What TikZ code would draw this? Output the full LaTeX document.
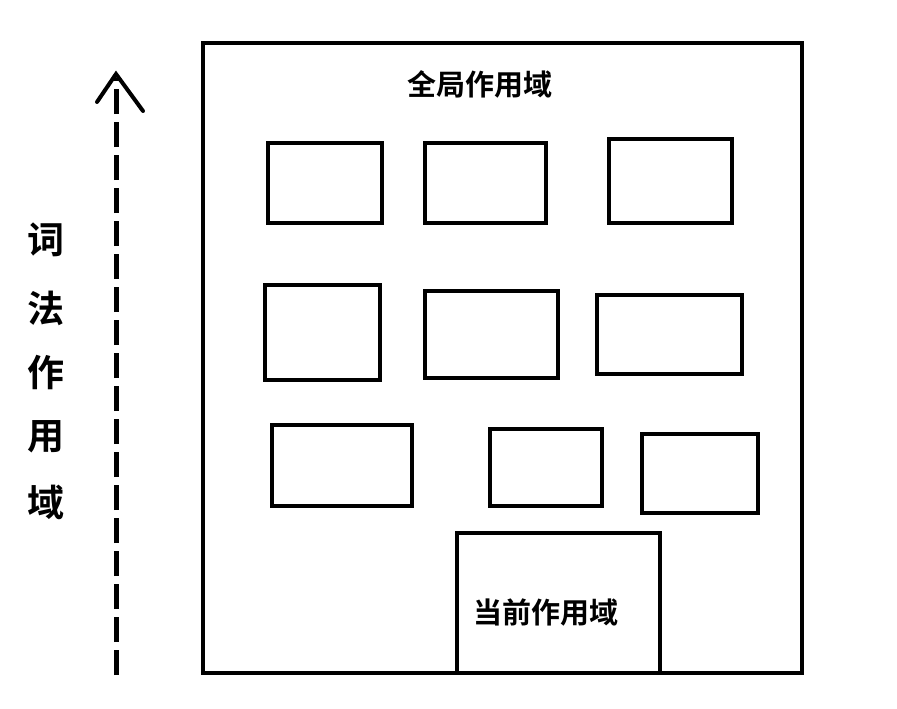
\documentclass[tikz,border=0pt]{standalone}
\usepackage{fontspec}
\newfontfamily\cjkbold{Noto Sans CJK SC Bold}
\begin{document}
\begin{tikzpicture}[x=1pt,y=-1pt,
  box/.style={draw=black,line width=4pt,rectangle,inner sep=0pt},
  lbl/.style={font=\cjkbold\fontsize{29}{29}\selectfont,inner sep=0pt},
  vlbl/.style={font=\cjkbold\fontsize{37}{37}\selectfont,inner sep=0pt}]
\useasboundingbox (0,0) rectangle (897,709);
\fill[white] (0,0) rectangle (897,709);
% outer global scope
\node[box,minimum width=599pt,minimum height=630pt] (outer) at (502.5,358) {};
\node[lbl] (gtext) at (480,84) {全局作用域};
% row 1
\node[box,minimum width=114pt,minimum height=80pt] (b1) at (325,183) {};
\node[box,minimum width=121pt,minimum height=80pt] (b2) at (485.5,183) {};
\node[box,minimum width=123pt,minimum height=84pt] (b3) at (670.5,181) {};
% row 2
\node[box,minimum width=115pt,minimum height=95pt] (b4) at (322.5,332.5) {};
\node[box,minimum width=133pt,minimum height=87pt] (b5) at (491.5,334.5) {};
\node[box,minimum width=145pt,minimum height=79pt] (b6) at (669.5,334.5) {};
% row 3
\node[box,minimum width=140pt,minimum height=81pt] (b7) at (342,465.5) {};
\node[box,minimum width=112pt,minimum height=77pt] (b8) at (546,467.5) {};
\node[box,minimum width=116pt,minimum height=79pt] (b9) at (700,473.5) {};
% current scope
\node[box,minimum width=203pt,minimum height=140pt] (cur) at (558.5,603) {};
\node[lbl] (ctext) at (546,613) {当前作用域};
% lexical scope arrow
\coordinate (abot) at (116,675);
\coordinate (atip) at (116,74);
\coordinate (aleft) at (97,102);
\coordinate (aright) at (143,111);
\draw[line width=5pt,dash pattern=on 25pt off 8pt] (abot) -- (116,78);
\draw[line width=4pt,line cap=round,line join=miter] (aleft) -- (atip) -- (aright);
% vertical label
\node[vlbl] (v1) at (46,240) {词};
\node[vlbl] (v2) at (46,308) {法};
\node[vlbl] (v3) at (46,372) {作};
\node[vlbl] (v4) at (46,437) {用};
\node[vlbl] (v5) at (46,502) {域};
\end{tikzpicture}
\end{document}
